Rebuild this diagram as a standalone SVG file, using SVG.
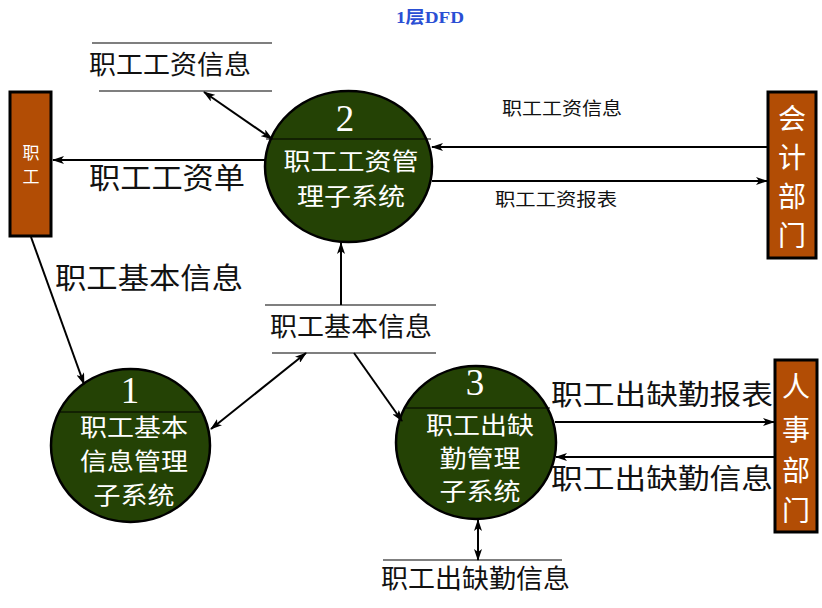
<svg xmlns="http://www.w3.org/2000/svg" width="822" height="608" viewBox="0 0 822 608">
<style>
text{font-family:"Noto Sans CJK SC","Noto Sans",sans-serif;}
.proc{fill:#244205;stroke:#000;stroke-width:2.5}
.ent{fill:#b24d05;stroke:#000;stroke-width:3}
.sep{stroke:#000;stroke-width:1.2}
.w{fill:#fff;text-anchor:middle}
.lbl{fill:#111}
.num{font-family:"Liberation Serif",serif !important}
.store{stroke:#000;stroke-width:1.2}
.c{stroke:#000;stroke-width:2;fill:none}
</style>
<defs>
<marker id="ah" viewBox="0 0 12 8" refX="11" refY="4" markerWidth="12" markerHeight="8" markerUnits="userSpaceOnUse" orient="auto-start-reverse">
<path d="M0,0 L12,4 L0,8 L3,4 Z" fill="#000"/>
</marker>
</defs>
<text x="396" y="23" font-size="17" font-weight="bold" fill="#2a4fd4" textLength="68" lengthAdjust="spacingAndGlyphs" style="font-family:'Liberation Serif','Noto Sans CJK SC',serif">1层DFD</text>

<g id="store-wage">
<line class="store" x1="92" y1="43" x2="272" y2="43"/>
<line class="store" x1="99" y1="91" x2="272" y2="91"/>
<text class="lbl" x="89" y="74" font-size="26" textLength="162" lengthAdjust="spacingAndGlyphs">职工工资信息</text>
</g>
<g id="store-basic">
<line class="store" x1="265" y1="305" x2="436" y2="305"/>
<line class="store" x1="272" y1="353" x2="436" y2="353"/>
<text class="lbl" x="270" y="336" font-size="26" textLength="162" lengthAdjust="spacingAndGlyphs">职工基本信息</text>
</g>
<g id="store-attend">
<line class="store" x1="383" y1="560" x2="562" y2="560"/>
<text class="lbl" x="381" y="588" font-size="26" textLength="189" lengthAdjust="spacingAndGlyphs">职工出缺勤信息</text>
</g>

<g id="ent-staff">
<rect class="ent" x="10" y="92" width="41" height="144"/>
<text class="w" x="31" y="159" font-size="17">职</text>
<text class="w" x="31" y="183" font-size="17">工</text>
</g>
<g id="ent-acct">
<rect class="ent" x="768" y="92" width="48" height="166"/>
<text class="w" x="792" y="129" font-size="28">会</text>
<text class="w" x="792" y="168" font-size="28">计</text>
<text class="w" x="792" y="207" font-size="28">部</text>
<text class="w" x="792" y="246" font-size="28">门</text>
</g>
<g id="ent-hr">
<rect class="ent" x="775" y="360" width="42" height="172"/>
<text class="w" x="796" y="397" font-size="28">人</text>
<text class="w" x="796" y="440" font-size="28">事</text>
<text class="w" x="796" y="481" font-size="28">部</text>
<text class="w" x="796" y="521" font-size="28">门</text>
</g>

<g id="proc-2">
<ellipse class="proc" cx="348.5" cy="166.5" rx="83.5" ry="75.5"/>
<line class="sep" x1="266" y1="139" x2="431" y2="139"/>
<text class="w num" x="345" y="131" font-size="37">2</text>
<text class="w" x="351" y="170" font-size="24" textLength="135" lengthAdjust="spacingAndGlyphs">职工工资管</text>
<text class="w" x="351" y="205" font-size="24" textLength="108" lengthAdjust="spacingAndGlyphs">理子系统</text>
</g>
<g id="proc-1">
<ellipse class="proc" cx="130.5" cy="445.5" rx="79.5" ry="76.5"/>
<line class="sep" x1="58" y1="412" x2="203" y2="412"/>
<text class="w num" x="130" y="403" font-size="37">1</text>
<text class="w" x="134" y="436" font-size="24" textLength="108" lengthAdjust="spacingAndGlyphs">职工基本</text>
<text class="w" x="134" y="470" font-size="24" textLength="108" lengthAdjust="spacingAndGlyphs">信息管理</text>
<text class="w" x="134" y="504" font-size="24" textLength="81" lengthAdjust="spacingAndGlyphs">子系统</text>
</g>
<g id="proc-3">
<ellipse class="proc" cx="476" cy="442.5" rx="80" ry="76.5"/>
<line class="sep" x1="405" y1="408" x2="550" y2="408"/>
<text class="w num" x="475" y="395" font-size="37">3</text>
<text class="w" x="480" y="434" font-size="24" textLength="108" lengthAdjust="spacingAndGlyphs">职工出缺</text>
<text class="w" x="480" y="467" font-size="24" textLength="81" lengthAdjust="spacingAndGlyphs">勤管理</text>
<text class="w" x="480" y="500" font-size="24" textLength="81" lengthAdjust="spacingAndGlyphs">子系统</text>
</g>

<g id="connectors">
<line class="c" x1="204" y1="92" x2="272" y2="139" marker-start="url(#ah)" marker-end="url(#ah)"/>
<line class="c" x1="265" y1="160" x2="53" y2="160" marker-end="url(#ah)"/>
<line class="c" x1="768" y1="147" x2="432" y2="147" marker-end="url(#ah)"/>
<line class="c" x1="432" y1="181" x2="767" y2="181" marker-end="url(#ah)"/>
<line class="c" x1="31" y1="237" x2="84" y2="384" marker-end="url(#ah)"/>
<line class="c" x1="341" y1="305" x2="341" y2="243" marker-end="url(#ah)"/>
<line class="c" x1="211" y1="429" x2="306" y2="353" marker-start="url(#ah)" marker-end="url(#ah)"/>
<line class="c" x1="354" y1="353" x2="402" y2="421" marker-end="url(#ah)"/>
<line class="c" x1="555" y1="422" x2="774" y2="422" marker-end="url(#ah)"/>
<line class="c" x1="774" y1="457" x2="556" y2="457" marker-end="url(#ah)"/>
<line class="c" x1="478" y1="520" x2="478" y2="560" marker-start="url(#ah)" marker-end="url(#ah)"/>
<text class="lbl" x="89" y="189" font-size="29" textLength="156" lengthAdjust="spacingAndGlyphs">职工工资单</text>
<text class="lbl" x="502" y="115" font-size="18" textLength="120" lengthAdjust="spacingAndGlyphs">职工工资信息</text>
<text class="lbl" x="495" y="206" font-size="18" textLength="122" lengthAdjust="spacingAndGlyphs">职工工资报表</text>
<text class="lbl" x="55" y="289" font-size="29" textLength="188" lengthAdjust="spacingAndGlyphs">职工基本信息</text>
<text class="lbl" x="551" y="405" font-size="28" textLength="222" lengthAdjust="spacingAndGlyphs">职工出缺勤报表</text>
<text class="lbl" x="551" y="489" font-size="28" textLength="222" lengthAdjust="spacingAndGlyphs">职工出缺勤信息</text>
</g>
</svg>
